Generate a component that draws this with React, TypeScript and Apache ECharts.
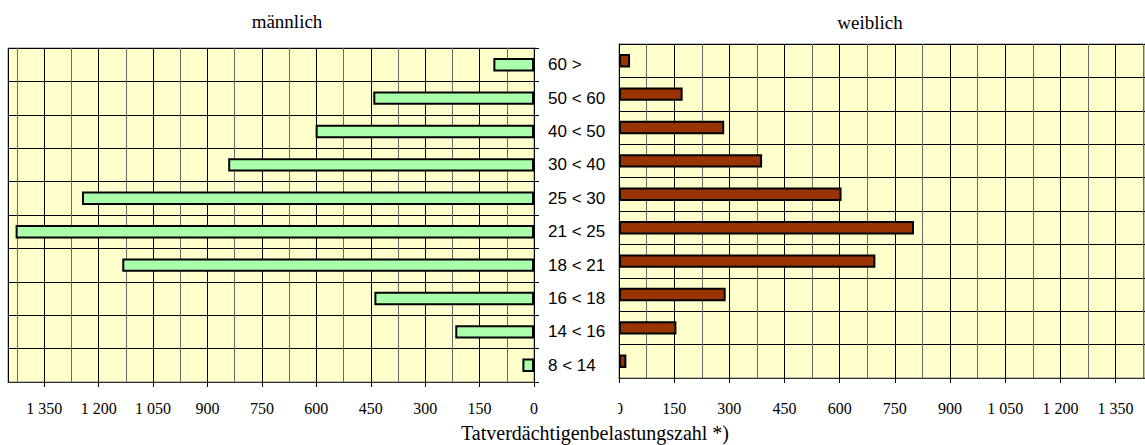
import React, { useEffect, useRef } from "react";
import * as echarts from "echarts";

const ageGroups = ["8 < 14", "14 < 16", "16 < 18", "18 < 21", "21 < 25", "25 < 30", "30 < 40", "40 < 50", "50 < 60", "60 >"];
const maleValues = [32, 217, 440, 1135, 1429, 1246, 843, 602, 443, 112];
const femaleValues = [20, 156, 290, 697, 802, 605, 389, 286, 173, 30];
const panelTitles = ["männlich", "weiblich"];
const axisTitle = "Tatverdächtigenbelastungszahl *)";

const SERIF = '"Liberation Serif", "Times New Roman", serif';
const SANS = '"Liberation Sans", Arial, sans-serif';

const fmt = (v: number) =>
  v >= 1000 ? `${Math.floor(v / 1000)} ${String(v % 1000).padStart(3, "0")}` : String(v);

export default function App() {
  const ref = useRef<HTMLDivElement>(null);
  useEffect(() => {
    if (!ref.current) return;
    const chart = echarts.init(ref.current, null, { renderer: "svg" });

    const mainX = (gridIndex: number, max: number, inverse: boolean, margin: number) => ({
      type: "value",
      gridIndex,
      min: 0,
      max,
      interval: 150,
      inverse,
      position: "bottom",
      axisLine: { show: true, lineStyle: { color: "#303030", width: 1 } },
      axisTick: { show: true, length: 5, lineStyle: { color: "#000" } },
      axisLabel: {
        show: true,
        formatter: fmt,
        fontFamily: SERIF,
        fontSize: 16,
        color: "#000",
        margin,
        showMaxLabel: false,
      },
      splitLine: { show: false },
    });
    const gridX = (gridIndex: number, max: number, inverse: boolean) => ({
      type: "value",
      gridIndex,
      min: 0,
      max,
      interval: 75,
      inverse,
      position: "top",
      axisLine: { show: false },
      axisTick: { show: false },
      axisLabel: { show: false },
      splitLine: { show: true, lineStyle: { color: ["#000", "#6a6a6a"], width: 1 } },
    });

    chart.setOption({
      animation: false,
      grid: [
        { left: 8, top: 48, width: 526, height: 334, show: true, backgroundColor: "#FFFFCC", borderColor: "#808080", borderWidth: 1 },
        { left: 619, top: 44, width: 526, height: 334, show: true, backgroundColor: "#FFFFCC", borderColor: "#808080", borderWidth: 1 },
      ],
      xAxis: [mainX(0, 1450, true, 18), gridX(0, 1450, true), mainX(1, 1430, false, 22), gridX(1, 1430, false)],
      yAxis: [
        {
          type: "category",
          gridIndex: 0,
          data: ageGroups,
          position: "right",
          axisLine: { show: true, lineStyle: { color: "#000" } },
          axisTick: { show: true, length: 5, lineStyle: { color: "#000" } },
          axisLabel: { show: true, align: "left", margin: 14, fontFamily: SANS, fontSize: 17, color: "#000" },
          splitLine: { show: true, lineStyle: { color: "#000" } },
        },
        {
          type: "category",
          gridIndex: 1,
          data: ageGroups,
          position: "left",
          axisLine: { show: true, lineStyle: { color: "#000" } },
          axisTick: { show: false },
          axisLabel: { show: false },
          splitLine: { show: true, lineStyle: { color: "#000" } },
        },
      ],
      series: [
        {
          type: "bar",
          name: panelTitles[0],
          xAxisIndex: 0,
          yAxisIndex: 0,
          data: maleValues,
          barWidth: "40%",
          itemStyle: { color: "#AAFFAA", borderColor: "#000", borderWidth: 2 },
        },
        {
          type: "bar",
          name: panelTitles[1],
          xAxisIndex: 2,
          yAxisIndex: 1,
          data: femaleValues,
          barWidth: "40%",
          itemStyle: { color: "#993300", borderColor: "#000", borderWidth: 2 },
        },
      ],
      graphic: [
        {
          type: "rect",
          z: 100,
          shape: { x: 606, y: 396, width: 12, height: 24 },
          style: { fill: "#fff" },
        },
        {
          type: "text",
          z: 100,
          x: 287,
          y: 21,
          style: { text: panelTitles[0], fontFamily: SERIF, fontSize: 19, fill: "#000", textAlign: "center", textVerticalAlign: "middle" },
        },
        {
          type: "text",
          z: 100,
          x: 870,
          y: 22,
          style: { text: panelTitles[1], fontFamily: SERIF, fontSize: 19, fill: "#000", textAlign: "center", textVerticalAlign: "middle" },
        },
        {
          type: "text",
          z: 100,
          x: 595,
          y: 433,
          style: { text: axisTitle, fontFamily: SERIF, fontSize: 20, fill: "#000", textAlign: "center", textVerticalAlign: "middle" },
        },
      ],
    });
    return () => chart.dispose();
  }, []);
  return <div ref={ref} style={{ position: "absolute", left: 0, top: 0, width: 1145, height: 445 }} />;
}
